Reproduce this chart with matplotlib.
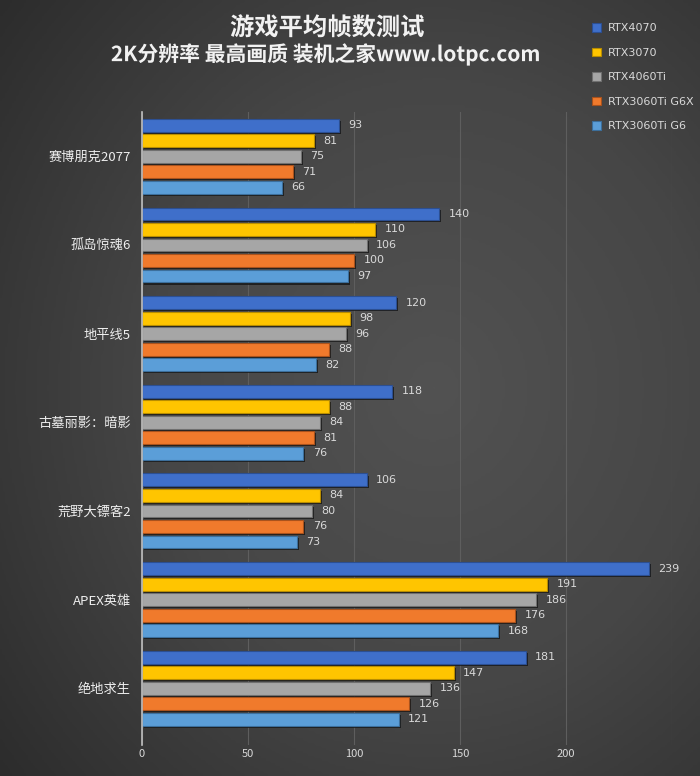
import numpy as np
import matplotlib
matplotlib.use('Agg')
import matplotlib.pyplot as plt
import matplotlib.patheffects as pe
from matplotlib.colors import LinearSegmentedColormap

plt.rcParams['font.family'] = ['Noto Sans CJK SC', 'DejaVu Sans']

games = ['赛博朋克2077', '孤岛惊魂6', '地平线5', '古墓丽影：暗影', '荒野大镖客2', 'APEX英雄', '绝地求生']
series = ['RTX4070', 'RTX3070', 'RTX4060Ti', 'RTX3060Ti G6X', 'RTX3060Ti G6']
rtx4070 = [93, 140, 120, 118, 106, 239, 181]
rtx3070 = [81, 110, 98, 88, 84, 191, 147]
rtx4060ti = [75, 106, 96, 84, 80, 186, 136]
rtx3060ti_g6x = [71, 100, 88, 81, 76, 176, 126]
rtx3060ti_g6 = [66, 97, 82, 76, 73, 168, 121]
values = [rtx4070, rtx3070, rtx4060ti, rtx3060ti_g6x, rtx3060ti_g6]
colors = ['#3f6fca', '#ffc500', '#a6a6a6', '#f07a2c', '#5b9ed8']
edges = ['#2c4f92', '#b88d00', '#707070', '#a9521c', '#3c6f9c']

fig = plt.figure(figsize=(7, 7.76), dpi=100)

# dark background, a bit lighter in the middle
bg = fig.add_axes([0, 0, 1, 1])
yy, xx = np.mgrid[0:1:300j, 0:1:300j]
r = np.sqrt((xx - 0.62) ** 2 + (yy - 0.5) ** 2)
cmap = LinearSegmentedColormap.from_list('bg', ['#525252', '#464646', '#2c2c2c'])
bg.imshow(r, cmap=cmap, vmin=0, vmax=0.8, extent=[0, 1, 0, 1], aspect='auto')
bg.axis('off')

ax = fig.add_axes([142 / 700, 1 - 745 / 776, 530 / 700, (745 - 112) / 776])
ax.set_facecolor('none')

pitch = 0.175
height = 0.145
y = np.arange(len(games))
for k, (name, vals) in enumerate(zip(series, values)):
    pos = y + (k - 2) * pitch
    bars = ax.barh(pos, vals, height=height, color=colors[k], edgecolor=edges[k],
                   linewidth=0.8, label=name, zorder=3)
    for b in bars:
        b.set_path_effects([pe.SimplePatchShadow(offset=(1.5, -1.5), shadow_rgbFace='#161616', alpha=0.8),
                            pe.Normal()])
    for p, v in zip(pos, vals):
        ax.text(v + 4.5, p, str(v), va='center', ha='left', fontsize=8, color='#d9d9d9',
                family=['DejaVu Sans'], zorder=4)

ax.set_xlim(0, 250)
ax.set_ylim(6.64, -0.5)
ax.set_xticks([0, 50, 100, 150, 200, 250])
ax.set_xticklabels(['0', '50', '100', '150', '200', ''])
ax.set_yticks(y)
ax.set_yticklabels(games)
ax.tick_params(axis='y', length=0, pad=8, labelsize=9.5, labelcolor='#eeeeee')
ax.tick_params(axis='x', length=0, pad=3, labelsize=8, labelcolor='#d9d9d9')
ax.grid(axis='x', color='#5e5e5e', linewidth=0.8, zorder=0)
for s in ['top', 'right', 'bottom']:
    ax.spines[s].set_visible(False)
ax.spines['left'].set_color('#bfbfbf')
ax.spines['left'].set_linewidth(1.2)
ax.spines['left'].set_zorder(5)

t1 = fig.text(327 / 700, 1 - 28 / 776, '游戏平均帧数测试', ha='center', va='center',
              fontsize=17.5, fontweight='bold', color='#f2f2f2')
t2 = fig.text(326 / 700, 1 - 54 / 776, '2K分辨率 最高画质 装机之家www.lotpc.com', ha='center', va='center',
              fontsize=15, fontweight='bold', color='#f2f2f2')
for t in (t1, t2):
    t.set_path_effects([pe.SimpleLineShadow(offset=(1.2, -1.2), shadow_color='black', alpha=0.8),
                        pe.Normal()])

leg = fig.legend(loc='upper left', bbox_to_anchor=(582 / 700, 1 - 13 / 776), frameon=False,
                 labelcolor='#d9d9d9', handlelength=0.8, handleheight=0.8,
                 handletextpad=0.6, labelspacing=1.3, prop={'family': ['DejaVu Sans'], 'size': 8})
for h in leg.legend_handles:
    h.set_path_effects([])

fig.savefig('out.png', dpi=100)
